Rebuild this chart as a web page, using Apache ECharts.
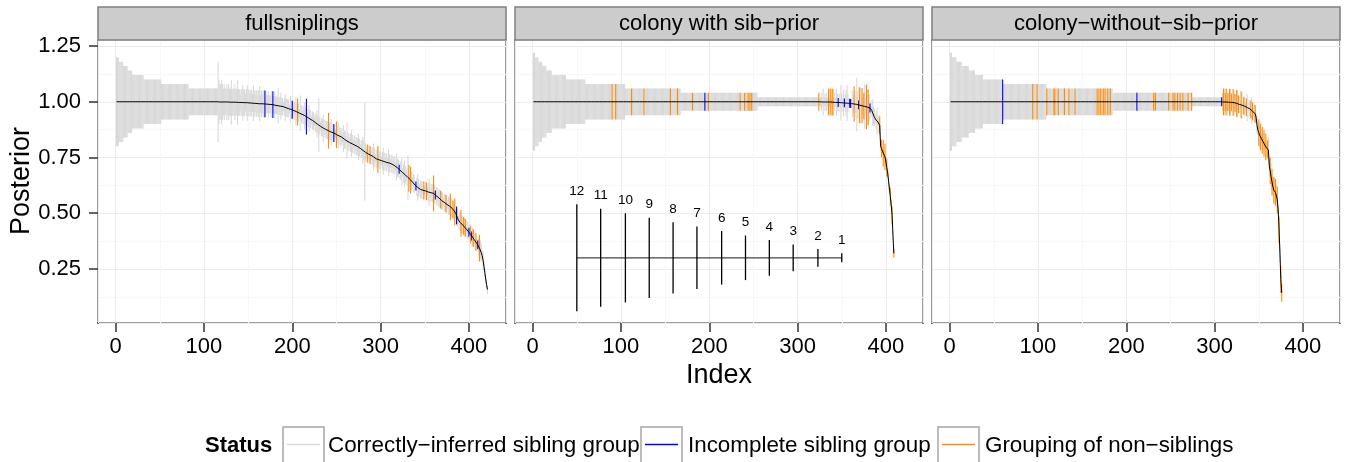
<!DOCTYPE html>
<html>
<head>
<meta charset="utf-8">
<script src="https://cdn.jsdelivr.net/npm/echarts@6/dist/echarts.min.js"></script>
<style>
html, body { margin: 0; padding: 0; background: #fff; }
#main { width: 1349px; height: 462px; }
</style>
</head>
<body>
<div id="main"></div>
<script>
// 面板标题 / 刻度 / 图例文字
var panelNames = ['fullsniplings', 'colony with sib−prior', 'colony−without−sib−prior'];
var xTicks = [0, 100, 200, 300, 400];
var yTicks = [0.25, 0.50, 0.75, 1.00, 1.25];
var statusNames = ['Correctly−inferred sibling group', 'Incomplete sibling group', 'Grouping of non−siblings'];

// 组大小图例 (中间面板)
var groupSizeKey = [12, 11, 10, 9, 8, 7, 6, 5, 4, 3, 2, 1];
var groupSizeKeyX = [50, 77, 105, 132, 159, 186, 214, 241, 268, 295, 323, 350];
var groupSizeKeyY = 0.30;
var barHalfPerSize = 0.02;

// ---- fullsniplings ----
// [size, count] runs, then one size per index
var sizeRuns1 = [[10,3],[9,5],[8,5],[7,5],[6,13],[5,20],[4,31],[3,33]];
var sizeTail1 = [
  9,5,4,4,5,4,3,4,3,3, 4,3,4,3,3,5,3,3,3,4, 3,3,5,3,3,2,3,3,4,3, 3,2,3,4,3,3,2,3,3,2,
  4,3,2,3,3,2,3,4,2,3, 2,3,3,2,3,2,2,3,2,2, 3,2,2,2,3,2,2,2,4,2, 2,3,2,2,1,2,3,2,2,2,
  2,1,3,2,2,2,1,2,3,2, 2,2,1,4,2,2,1,2,3,2, 2,1,2,3,2,2,1,2,2,1, 2,2,3,2,6,2,1,2,2,3,
  2,1,2,2,2,1,2,2,3,2, 1,2,2,1,2,2,3,2,1,2, 2,1,3,2,2,1,4,2,2,1, 2,3,2,1,2,2,1,2,2,3,
  2,1,2,2,3,2,11,2,1,2, 2,1,2,2,1,2,3,2,1,2, 2,2,1,2,2,1,2,3,2,1, 2,2,1,3,2,1,2,2,1,2,
  2,1,3,2,2,1,2,2,3,1, 2,3,2,1,2,5,2,1,2,2, 1,2,2,1,2,2,3,2,1,2, 2,1,2,2,1,2,2,1,2,3,
  2,1,2,2,3,2,1,2,2,1, 2,2,1,2,2,1,2,2,3,2, 1,2,2,1,2,2,1,2,2,1, 2,2,1,2,2,1,2,2,1,2,
  2,1,2,2,1,2,2,1,2,2, 1,2,2,1,2,2,1,2,2,1, 2,1,1,1,1,1
];
var postRuns1 = [[1.000,115]];
var postTail1 = [
  1.000,0.999,0.999,0.999,0.999,0.999,0.999,0.999,0.999,0.999,
  0.999,0.999,0.998,0.998,0.998,0.998,0.998,0.998,0.998,0.998,
  0.998,0.997,0.997,0.997,0.997,0.997,0.997,0.997,0.996,0.996,
  0.996,0.996,0.996,0.995,0.995,0.995,0.995,0.994,0.994,0.994,
  0.994,0.993,0.993,0.993,0.992,0.992,0.992,0.991,0.991,0.991,
  0.991,0.991,0.990,0.990,0.990,0.989,0.989,0.988,0.988,0.988,
  0.987,0.987,0.987,0.986,0.985,0.984,0.984,0.983,0.982,0.982,
  0.981,0.980,0.979,0.978,0.978,0.976,0.975,0.973,0.972,0.970,
  0.969,0.968,0.967,0.965,0.964,0.962,0.960,0.958,0.956,0.955,
  0.953,0.951,0.949,0.948,0.946,0.944,0.942,0.940,0.938,0.935,
  0.933,0.931,0.928,0.926,0.923,0.921,0.918,0.916,0.913,0.910,
  0.907,0.904,0.901,0.898,0.896,0.893,0.890,0.887,0.884,0.882,
  0.880,0.878,0.876,0.874,0.872,0.870,0.868,0.866,0.864,0.863,
  0.861,0.860,0.858,0.856,0.853,0.851,0.849,0.847,0.845,0.843,
  0.841,0.838,0.835,0.832,0.829,0.827,0.824,0.821,0.819,0.817,
  0.815,0.813,0.811,0.809,0.807,0.805,0.803,0.801,0.799,0.797,
  0.794,0.791,0.788,0.785,0.782,0.779,0.776,0.773,0.771,0.768,
  0.766,0.764,0.762,0.760,0.758,0.756,0.753,0.750,0.747,0.744,
  0.742,0.741,0.740,0.738,0.737,0.736,0.735,0.734,0.732,0.731,
  0.729,0.728,0.727,0.726,0.725,0.723,0.722,0.720,0.718,0.716,
  0.713,0.710,0.707,0.704,0.701,0.697,0.693,0.689,0.685,0.682,
  0.679,0.676,0.672,0.668,0.664,0.660,0.656,0.652,0.649,0.645,
  0.641,0.636,0.631,0.626,0.622,0.619,0.616,0.613,0.610,0.607,
  0.605,0.604,0.603,0.602,0.601,0.600,0.598,0.596,0.595,0.594,
  0.593,0.592,0.591,0.590,0.589,0.586,0.582,0.578,0.575,0.572,
  0.569,0.565,0.561,0.557,0.554,0.552,0.549,0.546,0.543,0.540,
  0.538,0.535,0.532,0.529,0.525,0.522,0.517,0.512,0.506,0.500,
  0.490,0.480,0.470,0.464,0.459,0.455,0.451,0.447,0.443,0.438,
  0.434,0.430,0.425,0.420,0.415,0.410,0.404,0.398,0.393,0.388,
  0.382,0.376,0.370,0.364,0.358,0.350,0.343,0.336,0.323,0.310,
  0.290,0.262,0.235,0.205,0.180,0.158
];
// [index, size]
var blue1 = [[169,3],[178,3],[200,2],[216,4],[247,2],[321,1],[340,1],[362,1],[386,2],[400,1],[403,1],[410,1]];
var orange1 = [[206,3],[241,4],[250,3],[285,2],[288,2],[297,3],[332,3],[334,3],[349,2],[352,2],[360,4],[368,2],
  [374,2],[379,3],[382,2],[384,3],[391,3],[394,2],[396,2],[402,2],[405,2],[408,2],[412,3]];

// ---- colony with sib-prior ----
var sizeRuns2 = [[11,2],[10,4],[9,4],[8,5],[7,6],[6,16],[5,22],[4,45],[3,63],[2,87],[1,68]];
var sizeTail2 = [
  1,2,1,1,2,1,3,1,2,1, 2,1,3,1,2,1,3,2,1,2, 1,3,2,1,2,1,4,2,1,3, 1,2,3,4,2,1,3,2,1,3,
  2,4,3,2,6,3,1,2,4,3, 4,2,3,5,2,3,4,2,3,1, 2,1,3,2,2,1,2,3,1,2, 2,1,2,1,2,1,2,1,2,1,
  2,1,2,1,2,1,1
];
var postRuns2 = [[1.000,322]];
var postTail2 = [
  1.000,1.000,1.000,1.000,1.000,0.999,0.999,0.999,0.999,0.999,
  0.999,0.999,0.999,0.999,0.999,0.998,0.998,0.998,0.998,0.998,
  0.997,0.997,0.997,0.997,0.996,0.996,0.996,0.996,0.995,0.995,
  0.995,0.995,0.994,0.994,0.994,0.993,0.993,0.992,0.992,0.991,
  0.991,0.990,0.990,0.989,0.988,0.987,0.986,0.985,0.984,0.983,
  0.982,0.981,0.980,0.979,0.978,0.977,0.976,0.975,0.974,0.972,
  0.966,0.961,0.950,0.940,0.930,0.924,0.918,0.913,0.909,0.902,
  0.894,0.800,0.790,0.780,0.770,0.762,0.753,0.730,0.705,0.680,
  0.645,0.610,0.575,0.540,0.490,0.400,0.320
];
var blue2 = [[195,2],[346,1],[353,1],[359,1],[360,1],[369,1],[382,1]];
var orange2 = [[90,4],[94,4],[112,3],[126,3],[156,3],[164,3],[181,2],[199,2],[235,2],[240,2],[244,2],[246,2],[248,2],
  [324,2],[335,3],[337,3],[339,3],[340,3],[364,4],[370,4],[373,4],[375,3],[378,5],[380,4],
  [393,2],[395,2],[397,3],[399,3],[401,2],[405,2],[407,2],[409,1]];

// ---- colony-without-sib-prior ----
var sizeRuns3 = [[11,2],[10,5],[9,6],[8,8],[7,7],[6,9],[5,22],[4,50],[3,75],[2,90],[1,33]];
var sizeTail3 = [
  1,2,2,3,2,1,3,2,2,1, 3,2,1,2,3,1,2,2,3,1, 2,1,2,3,1,2,2,1,2,3, 1,2,2,1,3,2,1,2,2,1,
  2,1,2,3,2,1,2,2,3,1, 2,2,1,3,2,2,3,1,2,2, 3,1,2,2,1,2,2,1,1
];
var postRuns3 = [[1.000,307]];
var postTail3 = [
  1.000,1.000,0.999,0.999,0.999,0.999,0.998,0.998,0.998,0.998,
  0.997,0.997,0.997,0.997,0.996,0.995,0.994,0.993,0.991,0.989,
  0.988,0.987,0.986,0.985,0.984,0.982,0.980,0.978,0.976,0.974,
  0.972,0.970,0.968,0.965,0.961,0.957,0.953,0.949,0.946,0.930,
  0.895,0.872,0.862,0.850,0.842,0.835,0.827,0.820,0.813,0.805,
  0.798,0.792,0.786,0.783,0.708,0.690,0.663,0.640,0.619,0.604,
  0.598,0.593,0.589,0.560,0.515,0.425,0.321,0.202,0.143
];
var blue3 = [[60,5],[212,2],[308,1]];
var orange3 = [[94,4],[99,4],[110,3],[118,3],[119,3],[123,3],[130,3],[135,3],[142,3],[167,3],[169,3],[171,3],
  [174,3],[176,3],[179,3],[182,3],[231,2],[233,2],[248,2],[253,2],[255,2],[258,2],[261,2],[264,2],[270,2],[274,2],
  [310,3],[312,2],[313,3],[315,2],[317,3],[319,2],[321,3],[323,2],[325,3],[327,2],[330,3],[333,2],[336,2],[341,2],
  [343,2],[346,2],[350,3],[352,3],[354,3],[356,3],[358,3],[360,2],[363,3],[365,3],[367,3],[369,3],[371,3],[373,3],
  [375,3],[376,2]];

function expand(runs, tail) {
    var out = [];
    runs.forEach(function (r) {
        for (var k = 0; k < r[1]; k++) out.push(r[0]);
    });
    return out.concat(tail);
}

function buildPanel(sizes, posts, blue, orange) {
    var marked = {};
    blue.concat(orange).forEach(function (b) { marked[b[0]] = true; });
    var gray = [], line = [];
    for (var i = 0; i < posts.length; i++) {
        line.push([i + 1, posts[i]]);
        if (!marked[i + 1]) gray.push([i + 1, posts[i], sizes[i]]);
    }
    var pick = function (list) {
        return list.map(function (b) { return [b[0], posts[b[0] - 1], b[1]]; });
    };
    return { gray: gray, blue: pick(blue), orange: pick(orange), line: line };
}

var panels = [
    buildPanel(expand(sizeRuns1, sizeTail1), expand(postRuns1, postTail1), blue1, orange1),
    buildPanel(expand(sizeRuns2, sizeTail2), expand(postRuns2, postTail2), blue2, orange2),
    buildPanel(expand(sizeRuns3, sizeTail3), expand(postRuns3, postTail3), blue3, orange3)
];

function renderBar(params, api) {
    var x = api.value(0), y = api.value(1), s = api.value(2);
    var top = api.coord([x, y + s * barHalfPerSize]);
    var bot = api.coord([x, y - s * barHalfPerSize]);
    return {
        type: 'line',
        shape: { x1: top[0], y1: top[1], x2: bot[0], y2: bot[1] },
        style: { stroke: api.visual('color'), lineWidth: 1.1 }
    };
}

function renderKey(params, api) {
    var x = api.value(0), s = api.value(1);
    var top = api.coord([x, groupSizeKeyY + s * barHalfPerSize]);
    var bot = api.coord([x, groupSizeKeyY - s * barHalfPerSize]);
    return {
        type: 'group',
        children: [{
            type: 'line',
            shape: { x1: top[0], y1: top[1], x2: bot[0], y2: bot[1] },
            style: { stroke: '#000', lineWidth: 1.3 }
        }, {
            type: 'text',
            style: {
                text: String(s), x: top[0], y: top[1] - 13,
                fill: '#000', font: '13.5px "Liberation Sans", Arial, sans-serif',
                align: 'center', verticalAlign: 'middle',
                textAlign: 'center', textVerticalAlign: 'middle'
            }
        }]
    };
}

var chart = echarts.init(document.getElementById('main'));

var gridLeft = [98, 515, 932];
var gridTop = 40, gridW = 408, gridH = 283;
var colors = ['#D9D9D9', '#0000FF', '#FF8C00'];
var font = '"Liberation Sans", Arial, sans-serif';

var grids = [], xAxes = [], yAxes = [], series = [], graphics = [];

panels.forEach(function (panel, p) {
    grids.push({
        left: gridLeft[p], top: gridTop, width: gridW, height: gridH,
        show: true, backgroundColor: '#fff', borderColor: '#7F7F7F', borderWidth: 1.5
    });
    xAxes.push({
        type: 'value', gridIndex: p, min: -20, max: 442, minInterval: 100, maxInterval: 100,
        axisLine: { show: false, onZero: false },
        axisTick: { show: true, length: 9, lineStyle: { color: '#333', width: 1.5 } },
        axisLabel: { show: true, margin: 13, fontSize: 22, color: '#000', fontFamily: font, customValues: xTicks },
        splitLine: { lineStyle: { color: '#EBEBEB', width: 1 } },
        minorTick: { show: false, splitNumber: 2 },
        minorSplitLine: { show: true, lineStyle: { color: '#F7F7F7', width: 1 } }
    });
    yAxes.push({
        type: 'value', gridIndex: p, min: 0.0076, max: 1.277, minInterval: 0.25, maxInterval: 0.25,
        axisLine: { show: false, onZero: false },
        axisTick: { show: p === 0, length: 9, lineStyle: { color: '#333', width: 1.5 } },
        axisLabel: {
            show: p === 0, margin: 17, fontSize: 22, color: '#000', fontFamily: font, customValues: yTicks,
            formatter: function (v) { return v.toFixed(2); }
        },
        splitLine: { lineStyle: { color: '#EBEBEB', width: 1 } },
        minorTick: { show: false, splitNumber: 2 },
        minorSplitLine: { show: true, lineStyle: { color: '#F7F7F7', width: 1 } }
    });
    [panel.gray, panel.blue, panel.orange].forEach(function (d, k) {
        series.push({
            name: statusNames[k], type: 'custom', xAxisIndex: p, yAxisIndex: p,
            renderItem: renderBar, data: d, itemStyle: { color: colors[k] }, z: 2 + k, silent: true
        });
    });
    series.push({
        type: 'line', xAxisIndex: p, yAxisIndex: p, data: panel.line, symbol: 'none',
        lineStyle: { color: '#000', width: 1 }, z: 6, silent: true
    });

    // 分面标签
    graphics.push({
        type: 'rect', shape: { x: gridLeft[p], y: 7, width: gridW, height: 33 },
        style: { fill: '#CCCCCC', stroke: '#7F7F7F', lineWidth: 1.5 }, z: 10
    });
    graphics.push({
        type: 'text', z: 11,
        style: {
            text: panelNames[p], x: gridLeft[p] + gridW / 2, y: 24, fill: '#000',
            font: '22px ' + font, textAlign: 'center', textVerticalAlign: 'middle'
        }
    });
    // 遮住轴两端多出来的刻度
    graphics.push({ type: 'rect', z: 20, shape: { x: gridLeft[p] - 2, y: gridTop + gridH + 0.9, width: 4, height: 11 }, style: { fill: '#fff' } });
    graphics.push({ type: 'rect', z: 20, shape: { x: gridLeft[p] + gridW - 2, y: gridTop + gridH + 0.9, width: 4, height: 11 }, style: { fill: '#fff' } });
});
graphics.push({ type: 'rect', z: 20, shape: { x: 86, y: gridTop - 2, width: 11.2, height: 4 }, style: { fill: '#fff' } });
graphics.push({ type: 'rect', z: 20, shape: { x: 86, y: gridTop + gridH - 2, width: 11.2, height: 4 }, style: { fill: '#fff' } });

// 中间面板的组大小图例
series.push({
    type: 'line', xAxisIndex: 1, yAxisIndex: 1,
    data: [[groupSizeKeyX[0], groupSizeKeyY], [groupSizeKeyX[groupSizeKeyX.length - 1], groupSizeKeyY]],
    symbol: 'none', lineStyle: { color: '#444', width: 1.2 }, z: 7, silent: true
});
series.push({
    type: 'custom', xAxisIndex: 1, yAxisIndex: 1, renderItem: renderKey, z: 8, silent: true,
    data: groupSizeKeyX.map(function (x, i) { return [x, groupSizeKey[i]]; })
});

// 轴标题
graphics.push({
    type: 'text', x: 22, y: 181, rotation: Math.PI / 2,
    style: { text: 'Posterior', x: 0, y: 0, fill: '#000', font: '27px ' + font, textAlign: 'center', textVerticalAlign: 'middle' }
});
graphics.push({
    type: 'text',
    style: { text: 'Index', x: 719, y: 376, fill: '#000', font: '27px ' + font, textAlign: 'center', textVerticalAlign: 'middle' }
});

// 底部图例
graphics.push({
    type: 'text',
    style: { text: 'Status', x: 205, y: 446, fill: '#000', font: 'bold 22px ' + font, textVerticalAlign: 'middle' }
});
var keyBoxX = [283, 641, 938];
var keyTextX = [328, 688, 985];
statusNames.forEach(function (name, k) {
    graphics.push({
        type: 'rect', shape: { x: keyBoxX[k], y: 427, width: 41, height: 41 },
        style: { fill: '#fff', stroke: '#A6A6A6', lineWidth: 1.5 }
    });
    graphics.push({
        type: 'line', shape: { x1: keyBoxX[k] + 4, y1: 444.5, x2: keyBoxX[k] + 37, y2: 444.5 },
        style: { stroke: colors[k], lineWidth: 1.3 }
    });
    graphics.push({
        type: 'text',
        style: { text: name, x: keyTextX[k], y: 446, fill: '#000', font: '22.4px ' + font, textVerticalAlign: 'middle' }
    });
});

chart.setOption({
    animation: false,
    textStyle: { fontFamily: font },
    grid: grids,
    xAxis: xAxes,
    yAxis: yAxes,
    series: series,
    graphic: graphics
});
</script>
</body>
</html>
